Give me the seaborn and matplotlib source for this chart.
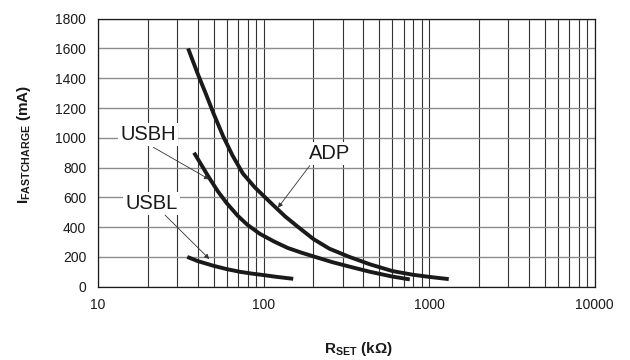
import numpy as np
import pandas as pd
import matplotlib
matplotlib.use("Agg")
import matplotlib.pyplot as plt
from matplotlib.ticker import FixedLocator, FixedFormatter, NullFormatter
import seaborn as sns

# 곡선 데이터 (R_SET kOhm, I_FASTCHARGE mA) - 그림에서 읽은 값
adp_r = [35, 40, 45, 50, 57, 65, 75, 88, 100, 115, 135, 160, 200, 250, 330, 440, 600, 800, 1000, 1313]
adp_i = [1600, 1430, 1290, 1160, 1010, 880, 760, 670, 610, 545, 472, 405, 320, 255, 200, 150, 105, 80, 66, 51]

usbh_r = [38, 42, 47, 53, 60, 70, 80, 95, 115, 140, 170, 205, 260, 330, 440, 600, 764]
usbh_i = [900, 820, 730, 640, 560, 475, 415, 355, 305, 260, 228, 200, 165, 135, 100, 68, 49]

usbl_r = [34.6, 40, 50, 60, 72, 85, 100, 120, 151]
usbl_i = [200, 172, 140, 118, 100, 88, 78, 66, 53]

x_ticks = [10, 100, 1000, 10000]
x_tick_labels = ["10", "100", "1000", "10000"]
y_ticks = [0, 200, 400, 600, 800, 1000, 1200, 1400, 1600, 1800]

# 라벨 위치 (텍스트, 화살표 시작, 화살표 끝)
labels = {
    "USBH": ((20.1, 985), (21.6, 936), (47, 721)),
    "USBL": ((21.0, 520), (25.4, 481), (47, 186)),
    "ADP": ((249, 856), (190, 813), (122, 530)),
}

df = pd.concat([
    pd.DataFrame({"r": adp_r, "i": adp_i, "curve": "ADP"}),
    pd.DataFrame({"r": usbh_r, "i": usbh_i, "curve": "USBH"}),
    pd.DataFrame({"r": usbl_r, "i": usbl_i, "curve": "USBL"}),
])

sns.set_style("white")
plt.rcParams["font.family"] = ["Liberation Sans", "DejaVu Sans"]
plt.rcParams["mathtext.fontset"] = "custom"
plt.rcParams["mathtext.rm"] = "Liberation Sans"
plt.rcParams["mathtext.bf"] = "Liberation Sans:bold"

fig = plt.figure(figsize=(6.3, 3.6), dpi=100)
ax = fig.add_axes([0.1556, 0.2036, 0.7884, 0.7445])

sns.lineplot(data=df, x="r", y="i", hue="curve", units="curve", estimator=None,
             palette={"ADP": "#1a1a1a", "USBH": "#1a1a1a", "USBL": "#1a1a1a"},
             linewidth=2.8, legend=False, ax=ax, zorder=3, solid_capstyle="butt",
             solid_joinstyle="round")

ax.set_xscale("log")
ax.set_xlim(10, 10000)
ax.set_ylim(0, 1800)
ax.xaxis.set_major_locator(FixedLocator(x_ticks))
ax.xaxis.set_major_formatter(FixedFormatter(x_tick_labels))
ax.xaxis.set_minor_locator(FixedLocator([m * d for d in [10, 100, 1000] for m in range(2, 10)]))
ax.xaxis.set_minor_formatter(NullFormatter())
ax.set_yticks(y_ticks)

ax.set_axisbelow(True)
ax.grid(True, axis="x", which="both", color="#333333", linewidth=0.8)
ax.grid(True, axis="y", which="major", color="#8c8c8c", linewidth=1.0)

ax.tick_params(axis="x", which="major", length=3, width=0.8, direction="out", pad=5,
               labelsize=10, colors="#1a1a1a")
ax.tick_params(axis="x", which="minor", length=0)
ax.tick_params(axis="y", length=0, pad=8.5, labelsize=10, colors="#1a1a1a")

for s in ax.spines.values():
    s.set_color("#1a1a1a")
    s.set_linewidth(0.9)

ax.set_xlabel(r"$\mathbf{R_{SET}}$ (kΩ)", fontsize=11, fontweight="bold", color="#1a1a1a")
ax.xaxis.set_label_coords(0.525, -0.2)
ax.set_ylabel(r"$\mathbf{I_{FASTCHARGE}}$ (mA)", fontsize=11, fontweight="bold", color="#1a1a1a")
ax.yaxis.set_label_coords(-0.131, 0.532)

for name, (txt, start, end) in labels.items():
    ax.text(txt[0], txt[1], name, fontsize=14.5, ha="center", va="baseline", color="#1a1a1a",
            zorder=5, bbox=dict(facecolor="white", edgecolor="none", pad=1.5))
    ax.annotate("", xy=end, xytext=start, zorder=6,
                arrowprops=dict(arrowstyle="-|>", lw=0.6, color="#333333",
                                mutation_scale=7, shrinkA=0, shrinkB=0))

fig.savefig("out.png", dpi=100)
